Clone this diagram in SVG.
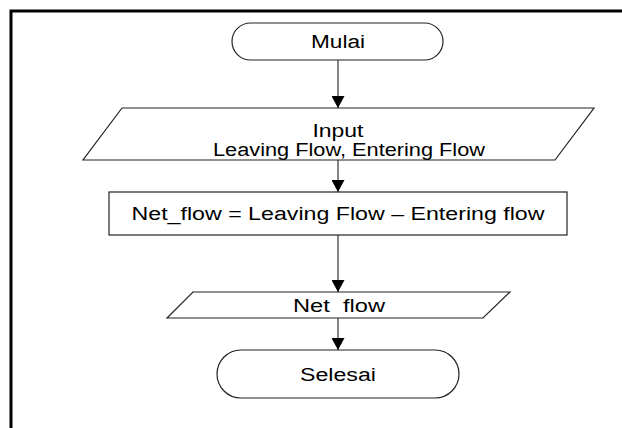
<svg xmlns="http://www.w3.org/2000/svg" width="622" height="428" viewBox="0 0 622 428">
<style>
.shape{fill:#fff;stroke:#222;stroke-width:1.2}
.txt{font-family:"Liberation Sans",Arial,sans-serif;font-size:18px;fill:#000;text-anchor:middle}
.pre{white-space:pre}
.conn{stroke:#444;stroke-width:1.3;fill:none}
</style>
<defs>
<marker id="arr" viewBox="0 0 12 13" refX="12" refY="6.5" markerWidth="12" markerHeight="13" markerUnits="userSpaceOnUse" orient="auto">
<path d="M0,0 L12,6.5 L0,13 Z" fill="#000"/>
</marker>
</defs>
<rect x="0" y="0" width="622" height="428" fill="#fff"/>
<path d="M11,428 V11 H622" fill="none" stroke="#000" stroke-width="3"/>
<g id="connectors">
<line class="conn" x1="338" y1="60" x2="338" y2="108" marker-end="url(#arr)"/>
<line class="conn" x1="338" y1="160" x2="338" y2="192" marker-end="url(#arr)"/>
<line class="conn" x1="338" y1="235" x2="338" y2="292" marker-end="url(#arr)"/>
<line class="conn" x1="338" y1="318" x2="338" y2="350" marker-end="url(#arr)"/>
</g>
<g id="mulai">
<rect class="shape" x="232" y="23" width="211" height="37" rx="18.5"/>
<text class="txt" x="338" y="48" textLength="54" lengthAdjust="spacingAndGlyphs">Mulai</text>
</g>
<g id="input">
<polygon class="shape" points="122,108 594,108 555,160 83,160"/>
<text class="txt" x="338" y="137" textLength="51" lengthAdjust="spacingAndGlyphs">Input</text>
<text class="txt" x="349" y="156" textLength="272" lengthAdjust="spacingAndGlyphs">Leaving Flow, Entering Flow</text>
</g>
<g id="process">
<rect class="shape" x="109" y="192" width="458" height="43"/>
<text class="txt" x="338" y="220" textLength="413" lengthAdjust="spacingAndGlyphs">Net_flow = Leaving Flow – Entering flow</text>
</g>
<g id="output">
<polygon class="shape" points="193,292 510,292 483,318 167,318"/>
<text class="txt pre" x="339" y="312" xml:space="preserve" textLength="92" lengthAdjust="spacingAndGlyphs">Net  flow</text>
</g>
<g id="selesai">
<rect class="shape" x="217" y="350" width="242" height="48" rx="24"/>
<text class="txt" x="338" y="381" textLength="76" lengthAdjust="spacingAndGlyphs">Selesai</text>
</g>
</svg>
